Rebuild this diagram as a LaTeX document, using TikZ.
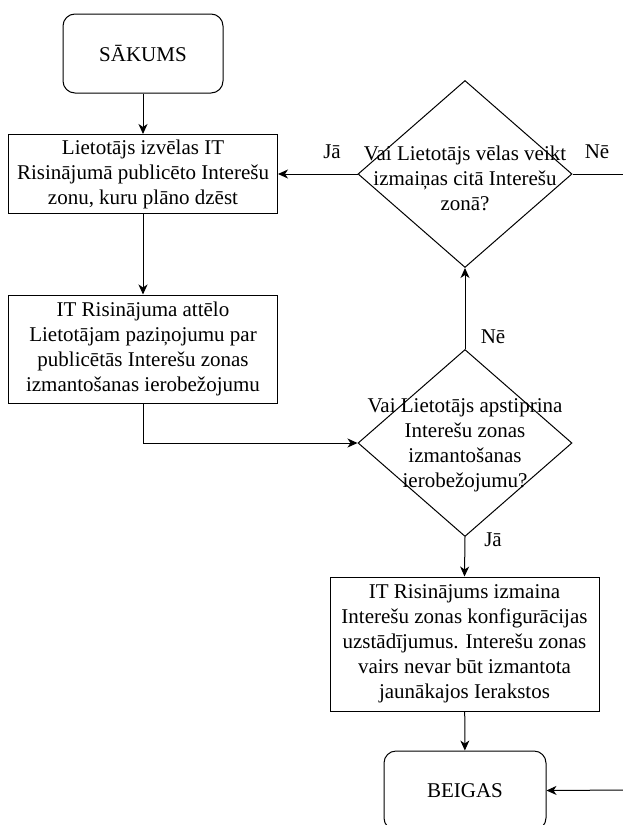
\documentclass[tikz,border=0pt]{standalone}
\usepackage{fontspec}
\setmainfont{Liberation Serif}
\usetikzlibrary{positioning,shapes.geometric,arrows.meta}

\tikzset{
  base/.style={draw,line width=1pt,align=center,font=\fontsize{21}{25}\selectfont},
  terminal/.style={base,rounded corners=12pt,minimum width=160pt,minimum height=79pt},
  process/.style={base,minimum width=269pt,inner sep=0pt},
  decision/.style={draw,line width=1pt,diamond,minimum width=214pt,minimum height=187pt,inner sep=0pt},
  decisiontext/.style={align=center,font=\fontsize{21}{25}\selectfont,inner sep=0pt},
  lbl/.style={font=\fontsize{21}{25}\selectfont,inner sep=0pt},
  flow/.style={line width=1pt,-{Stealth[length=10pt,width=9pt,inset=3pt]}}
}

\begin{document}
\begin{tikzpicture}[x=1pt,y=-1pt]
  \useasboundingbox (0,0) rectangle (623,825);

  \node[terminal] (start) at (143,53.5) {SĀKUMS};
  \node[process,minimum height=79pt] (choose) at (143,174) {Lietotājs izvēlas IT\\Risinājumā publicēto Interešu\\zonu, kuru plāno dzēst};
  \node[process,minimum height=108pt] (notify) at (143,349) {IT Risinājuma attēlo\\Lietotājam paziņojumu par\\publicētās Interešu zonas\\izmantošanas ierobežojumu};
  \node[decision] (again) at (465,174) {};
  \node[decisiontext] (againtext) at (465,178) {Vai Lietotājs vēlas veikt\\izmaiņas citā Interešu\\zonā?};
  \node[decision] (confirm) at (465,443) {};
  \node[decisiontext] (confirmtext) at (465,445) {Vai Lietotājs apstiprina\\Interešu zonas\\izmantošanas\\ierobežojumu?};
  \node[process,minimum height=134pt] (change) at (464.5,644) {IT Risinājums izmaina\\Interešu zonas konfigurācijas\\uzstādījumus. Interešu zonas\\vairs nevar būt izmantota\\jaunākajos Ierakstos};
  \node[terminal,minimum width=162pt] (end) at (465,790.5) {BEIGAS};

  \coordinate (rightout) at (630,174);
  \coordinate (rightin) at (630,790);

  % connectors
  \draw[flow] (start) -- (choose);
  \draw[flow] (choose) -- (notify);
  \draw[flow] (notify.south) |- (confirm.west);
  \draw[flow] (confirm.north) -- (again.south);
  \draw[flow] (again.west) -- (choose.east);
  \draw[line width=1pt] (again.east) -- (rightout);
  \draw[flow] (confirm.south) -- (change.north);
  \draw[flow] (change) -- (end);
  \draw[flow] (rightin) -- (end.east);

  % labels
  \node[lbl] (yesleft) at (332,152) {Jā};
  \node[lbl] (noright) at (597,152) {Nē};
  \node[lbl] (noup) at (493,337) {Nē};
  \node[lbl] (yesdown) at (493,540) {Jā};
\end{tikzpicture}
\end{document}
